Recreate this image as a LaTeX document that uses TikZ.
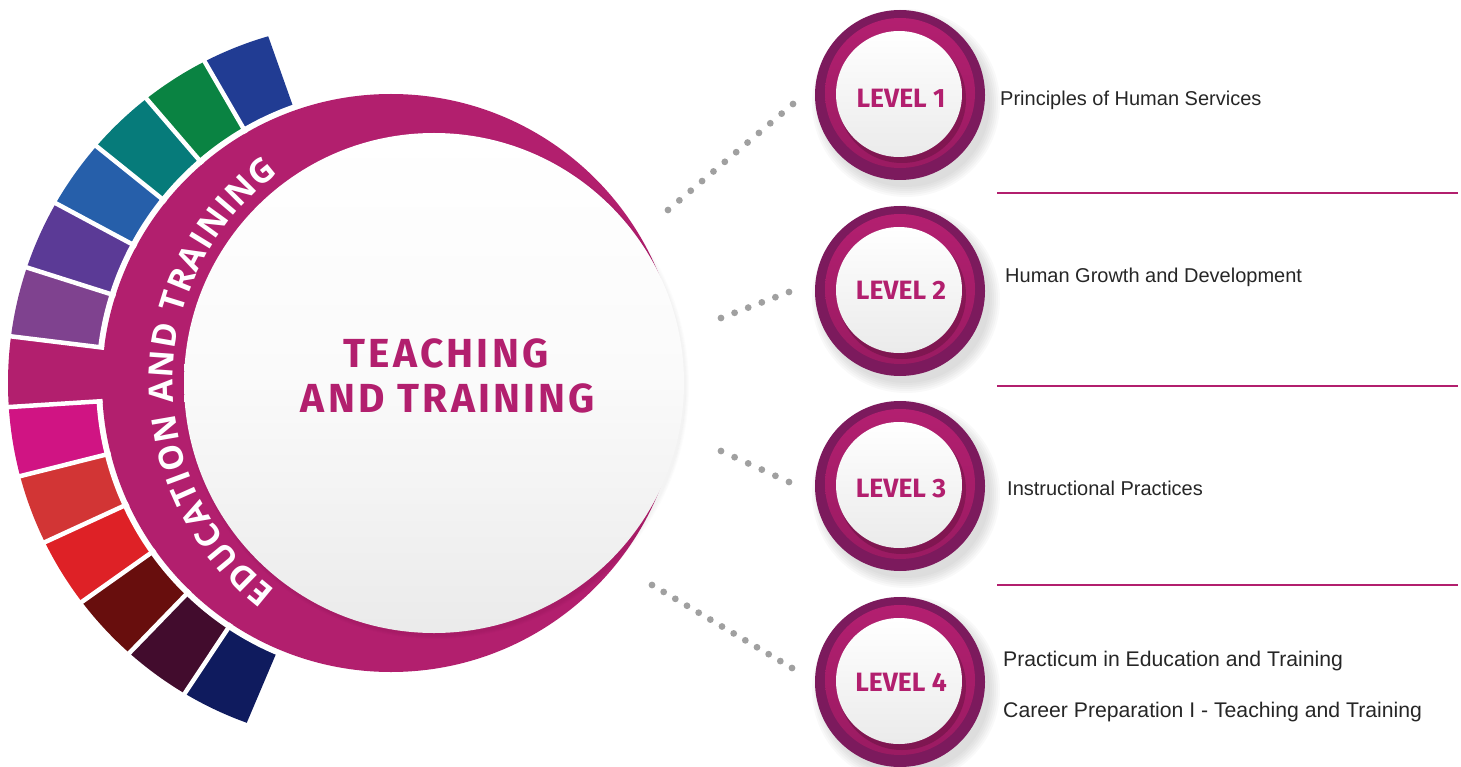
\documentclass[tikz,border=0pt]{standalone}
\usepackage{fontspec}
\setmainfont{Liberation Sans}
\newfontfamily\fira{Fira Sans}
\newfontfamily\firaspaced{Fira Sans}[LetterSpace=8]
\newfontfamily\opensans{Open Sans}
\newfontfamily\arialike{Liberation Sans}
\usetikzlibrary{calc,decorations.text}
\definecolor{mag}{HTML}{B21F6E}
\definecolor{magdark}{HTML}{7C1A5D}
\definecolor{magface}{HTML}{B31F70}
\definecolor{magfacedark}{HTML}{9A1B62}
\definecolor{sgA}{HTML}{213C93}
\definecolor{sgB}{HTML}{0A8342}
\definecolor{sgC}{HTML}{067B7A}
\definecolor{sgD}{HTML}{265FAA}
\definecolor{sgE}{HTML}{5B3A96}
\definecolor{sgF}{HTML}{7F428F}
\definecolor{sgG}{HTML}{B21F6E}
\definecolor{sgH}{HTML}{D01483}
\definecolor{sgI}{HTML}{D23535}
\definecolor{sgJ}{HTML}{DE2126}
\definecolor{sgK}{HTML}{680E0D}
\definecolor{sgL}{HTML}{420C2D}
\definecolor{sgM}{HTML}{0F1B5E}
\definecolor{dotc}{HTML}{A0A0A0}
\definecolor{txt}{HTML}{262626}
\newcommand\edufmt{\opensans\bfseries\fontsize{33.5pt}{38pt}\selectfont\color{white}}
\begin{document}
\begin{tikzpicture}[x=1pt,y=-1pt,
  dot/.style={fill=dotc},
  rtext/.style={anchor=base west, text=txt, font=\arialike\fontsize{21.2pt}{25pt}\selectfont, inner sep=0},
  rtextsmall/.style={rtext, font=\arialike\fontsize{20pt}{24pt}\selectfont},
  lvltext/.style={anchor=base, text=mag, font=\fira\bfseries\fontsize{26.5pt}{30pt}\selectfont, inner sep=0},
  titletext/.style={anchor=base, text=mag, font=\firaspaced\bfseries\fontsize{40.6pt}{45pt}\selectfont, inner sep=0},
  sepline/.style={white, line width=4.5pt},
  hline/.style={mag, line width=2pt}]
\useasboundingbox (0,0) rectangle (1461,767);
\coordinate (A) at (391,383);
\coordinate (O) at (369,383);
% cluster segments
\begin{scope}
 \clip (O) circle[radius=361];
 \foreach \a/\b/\c in {250.5/239.9/sgA, 239.9/229.3/sgB, 229.3/218.8/sgC, 218.8/208.2/sgD, 208.2/197.6/sgE, 197.6/187.0/sgF, 176.4/165.9/sgH, 165.9/155.3/sgI, 155.3/144.7/sgJ, 144.7/134.1/sgK, 134.1/123.6/sgL, 123.6/113.0/sgM}
   \fill[\c] (A) -- ($(A)+(\a:420)$) arc[start angle=\a, end angle=\b, radius=420] -- cycle;
\end{scope}
\fill[white] (A) circle[radius=295];
\begin{scope}
 \clip (O) circle[radius=361];
 \fill[sgG] (A) -- ($(A)+(187.0:420)$) arc[start angle=187.0, end angle=176.4, radius=420] -- cycle;
\end{scope}
\fill[mag] (A) circle[radius=289];
\foreach \a in {239.9,229.3,218.8,208.2,197.6,187.0,176.4,165.9,155.3,144.7,134.1,123.6}
  \draw[sepline] ($(A)+(\a:289)$) -- ($(A)+(\a:400)$);
% central disc
\foreach \k in {1,...,4} \fill[black, opacity=0.012] (436,386) circle[radius=249+\k];
\node[circle, inner sep=0, minimum size=500pt, top color=white, bottom color=black!8, middle color=white!98!black] (core) at (434,383) {};
% band text
\path[decorate, decoration={text along path, text={|\edufmt|EDUCATION AND TRAINING}, text align={fit to path}}]
  ($(core.center)+(127.5:261)$) arc[start angle=127.5, end angle=233.5, radius=261];
% title
\node[titletext] (t1) at (446,367) {TEACHING};
\node[titletext] (t2) at (448,412) {AND TRAINING};
% level buttons
\foreach \i/\y/\ty in {1/95/108, 2/291/299.5, 3/486/497, 4/682/691.5} {
  \foreach \k in {1,...,6} \fill[black, opacity=0.022] (906,\y+8) circle[radius=82+2*\k];
  \fill[magdark] (900,\y) circle[radius=85];
  \shade[top color=magface, bottom color=magfacedark] (900,\y-2) circle[radius=75];
  \fill[black, opacity=0.18] (902,\y+4) circle[radius=64];
  \node[circle, inner sep=0, minimum size=126pt, top color=white, bottom color=black!8] (lv\i) at (899,\y-1) {};
  \node[lvltext] at (901,\ty) {LEVEL \i};
}
% dotted connectors
\coordinate (d1s) at (668,210); \coordinate (d1e) at (793,104);
\coordinate (d2s) at (721,318); \coordinate (d2e) at (789,292);
\coordinate (d3s) at (721,451); \coordinate (d3e) at (789,482);
\coordinate (d4s) at (652,585); \coordinate (d4e) at (792,668);
\foreach \s/\e/\n in {d1s/d1e/11, d2s/d2e/5, d3s/d3e/5, d4s/d4e/12}
  \foreach \t in {0,...,\n} \fill[dot] ($(\s)!{\t/\n}!(\e)$) circle[radius=3.4];
% separators
\draw[hline] (997,193) -- (1458,193);
\draw[hline] (997,386) -- (1458,386);
\draw[hline] (997,585) -- (1458,585);
% course texts
\node[rtextsmall] (p1) at (1000,105.5) {Principles of Human Services};
\node[rtextsmall] (p2) at (1005,282.5) {Human Growth and Development};
\node[rtextsmall] (p3) at (1007,495.5) {Instructional Practices};
\node[rtext] (p4a) at (1003,666) {Practicum in Education and Training};
\node[rtext] (p4b) at (1003,717) {Career Preparation I - Teaching and Training};
\end{tikzpicture}
\end{document}
